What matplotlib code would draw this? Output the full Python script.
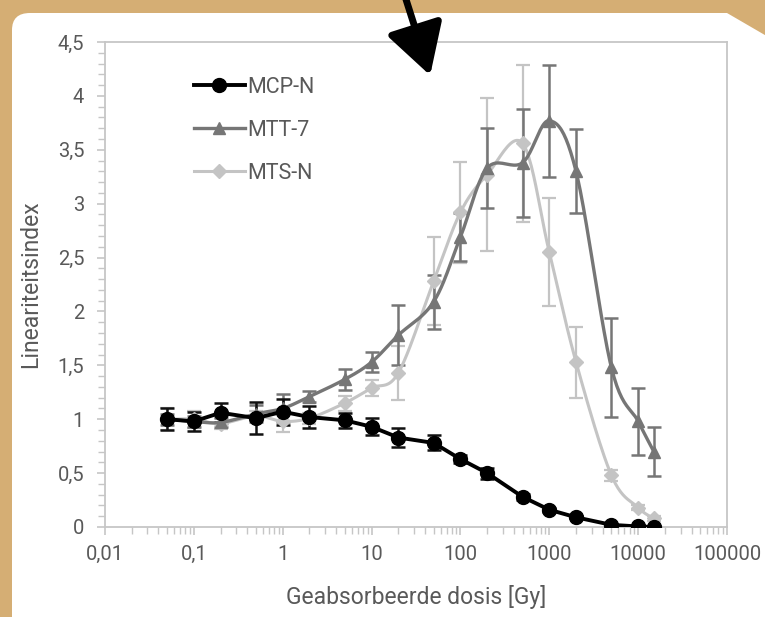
import numpy as np
import matplotlib
matplotlib.use('Agg')
import matplotlib.pyplot as plt
from matplotlib.path import Path
from matplotlib.patches import PathPatch, FancyArrowPatch
from matplotlib.ticker import FuncFormatter, MultipleLocator, LogLocator
from matplotlib.lines import Line2D

plt.rcParams['font.family'] = ['Roboto', 'DejaVu Sans']

# dose values (Gy)
dose = [0.05, 0.1, 0.2, 0.5, 1, 2, 5, 10, 20, 50, 100, 200, 500,
        1000, 2000, 5000, 10000, 15000]

mcp_n = [1.0, 0.98, 1.06, 1.01, 1.07, 1.02, 0.99, 0.93, 0.83, 0.78, 0.63,
         0.50, 0.28, 0.16, 0.09, 0.02, 0.005, 0.0]
mcp_err = [0.10, 0.09, 0.09, 0.15, 0.12, 0.10, 0.07, 0.08, 0.09, 0.07, 0.04,
           0.05, 0.03, 0.02, 0.01, 0.01, 0.01, 0.01]

mtt_7 = [1.0, 0.98, 0.97, 1.05, 1.10, 1.21, 1.37, 1.53, 1.78, 2.09, 2.69,
         3.33, 3.38, 3.77, 3.30, 1.48, 0.98, 0.70]
mtt_err = [0.05, 0.05, 0.04, 0.08, 0.13, 0.05, 0.10, 0.09, 0.28, 0.25, 0.22,
           0.37, 0.50, 0.52, 0.39, 0.46, 0.31, 0.23]

mts_n = [1.0, 1.0, 0.96, 1.03, 0.98, 1.01, 1.15, 1.29, 1.43, 2.28, 2.92,
         3.27, 3.56, 2.55, 1.53, 0.48, 0.18, 0.08]
mts_err = [0.10, 0.08, 0.05, 0.05, 0.10, 0.05, 0.07, 0.07, 0.25, 0.41, 0.47,
           0.71, 0.73, 0.50, 0.33, 0.05, 0.02, 0.02]

x_ticks = [0.01, 0.1, 1, 10, 100, 1000, 10000, 100000]

W, H = 765, 617
TAN = '#d5ae74'
TXT = '#595959'
AXC = '#c6c6c6'


def px(x, y):
    """pixel (top-down) to figure fraction"""
    return x / W, 1 - y / H


def smooth(xs, ys, n=24):
    """Excel-like smoothed line (bezier through the points, log x)"""
    u = np.log10(xs)
    v = np.asarray(ys, dtype=float)
    out_u, out_v = [u[0]], [v[0]]
    for i in range(len(u) - 1):
        p0 = (u[max(i - 1, 0)], v[max(i - 1, 0)])
        p1 = (u[i], v[i])
        p2 = (u[i + 1], v[i + 1])
        p3 = (u[min(i + 2, len(u) - 1)], v[min(i + 2, len(u) - 1)])
        c1 = (p1[0] + (p2[0] - p0[0]) / 6, p1[1] + (p2[1] - p0[1]) / 6)
        c2 = (p2[0] - (p3[0] - p1[0]) / 6, p2[1] - (p3[1] - p1[1]) / 6)
        t = np.linspace(0, 1, n)[1:]
        for k in range(2):
            pts = [p1[k], c1[k], c2[k], p2[k]]
            b = ((1 - t) ** 3 * pts[0] + 3 * (1 - t) ** 2 * t * pts[1]
                 + 3 * (1 - t) * t ** 2 * pts[2] + t ** 3 * pts[3])
            (out_u if k == 0 else out_v).extend(b)
    return 10 ** np.array(out_u), np.array(out_v)


fig = plt.figure(figsize=(W / 100, H / 100), dpi=100, facecolor=TAN)

# white card with rounded top-left and cut top-right corner
verts = [px(12, 640), px(12, 30), px(12, 13), px(30, 13), px(727, 13),
         px(770, 38), px(770, 640), px(12, 640)]
codes = [Path.MOVETO, Path.LINETO, Path.CURVE3, Path.CURVE3, Path.LINETO,
         Path.LINETO, Path.LINETO, Path.CLOSEPOLY]
card = PathPatch(Path(verts, codes), transform=fig.transFigure,
                 facecolor='white', edgecolor='none', zorder=-5)
fig.patches.append(card)

ax = fig.add_axes([105 / W, (H - 527) / H, 622 / W, 485 / H])
ax.set_facecolor('white')
ax.set_xscale('log')
ax.set_xlim(0.01, 100000)
ax.set_ylim(0, 4.5)

# error bars
ax.errorbar(dose, mts_n, yerr=mts_err, fmt='none', ecolor='#c4c4c4',
            elinewidth=1.6, capsize=5, capthick=1.6, zorder=2)
ax.errorbar(dose, mtt_7, yerr=mtt_err, fmt='none', ecolor='#767676',
            elinewidth=1.8, capsize=5, capthick=1.8, zorder=3)
ax.errorbar(dose, mcp_n, yerr=mcp_err, fmt='none', ecolor='#111111',
            elinewidth=1.8, capsize=5, capthick=1.8, zorder=4)

# lines
sx, sy = smooth(dose, mts_n)
ax.plot(sx, sy, color='#c4c4c4', lw=2.2, zorder=5)
ax.plot(dose, mts_n, ls='none', marker='D', ms=7, color='#c4c4c4', zorder=5)
sx, sy = smooth(dose, mtt_7)
ax.plot(sx, sy, color='#767676', lw=2.4, zorder=6)
ax.plot(dose, mtt_7, ls='none', marker='^', ms=9, color='#767676', zorder=6)
ax.plot(dose, mcp_n, color='#000000', lw=2.8, marker='o', ms=10, zorder=7)

# axes styling
for s in ax.spines.values():
    s.set_color(AXC)
    s.set_linewidth(1.3)
ax.xaxis.set_major_locator(LogLocator(base=10, numticks=20))
ax.xaxis.set_minor_locator(LogLocator(base=10, subs=np.arange(2, 10),
                                      numticks=20))
ax.set_xticks(x_ticks)
ax.yaxis.set_major_locator(MultipleLocator(0.5))
ax.yaxis.set_minor_locator(MultipleLocator(0.1))
fmt = FuncFormatter(lambda v, p: '{:g}'.format(v).replace('.', ','))
ax.xaxis.set_major_formatter(fmt)
ax.yaxis.set_major_formatter(fmt)
ax.xaxis.set_minor_formatter(FuncFormatter(lambda v, p: ''))
ax.tick_params(which='major', length=6, width=1.2, color=AXC,
               labelcolor=TXT, labelsize=14.5)
ax.tick_params(which='minor', length=5, width=1.0, color=AXC)
ax.tick_params(axis='y', which='major', pad=9)
ax.tick_params(axis='x', which='major', pad=7)

ax.set_xlabel('Geabsorbeerde dosis [Gy]', color=TXT, fontsize=16.5,
              labelpad=15)
ax.set_ylabel('Lineariteitsindex', color=TXT, fontsize=16.5, labelpad=11)

handles = [Line2D([], [], color='#000000', lw=2.8, marker='o', ms=10),
           Line2D([], [], color='#767676', lw=2.4, marker='^', ms=9),
           Line2D([], [], color='#c4c4c4', lw=2.2, marker='D', ms=7)]
leg = ax.legend(handles, ['MCP-N', 'MTT-7', 'MTS-N'], loc='upper left',
                bbox_to_anchor=(0.112, 0.968), frameon=False, fontsize=15.5,
                labelspacing=1.02, handlelength=2.35, handletextpad=0.1,
                labelcolor=TXT)

# black arrow pointing down into the chart
arrow = FancyArrowPatch(px(403, -10), px(431, 78), transform=fig.transFigure,
                        arrowstyle='-|>,head_length=14,head_width=8',
                        color='black', lw=5, mutation_scale=2.2, zorder=10)
fig.patches.append(arrow)

plt.savefig('out.png', dpi=100, facecolor=TAN)
